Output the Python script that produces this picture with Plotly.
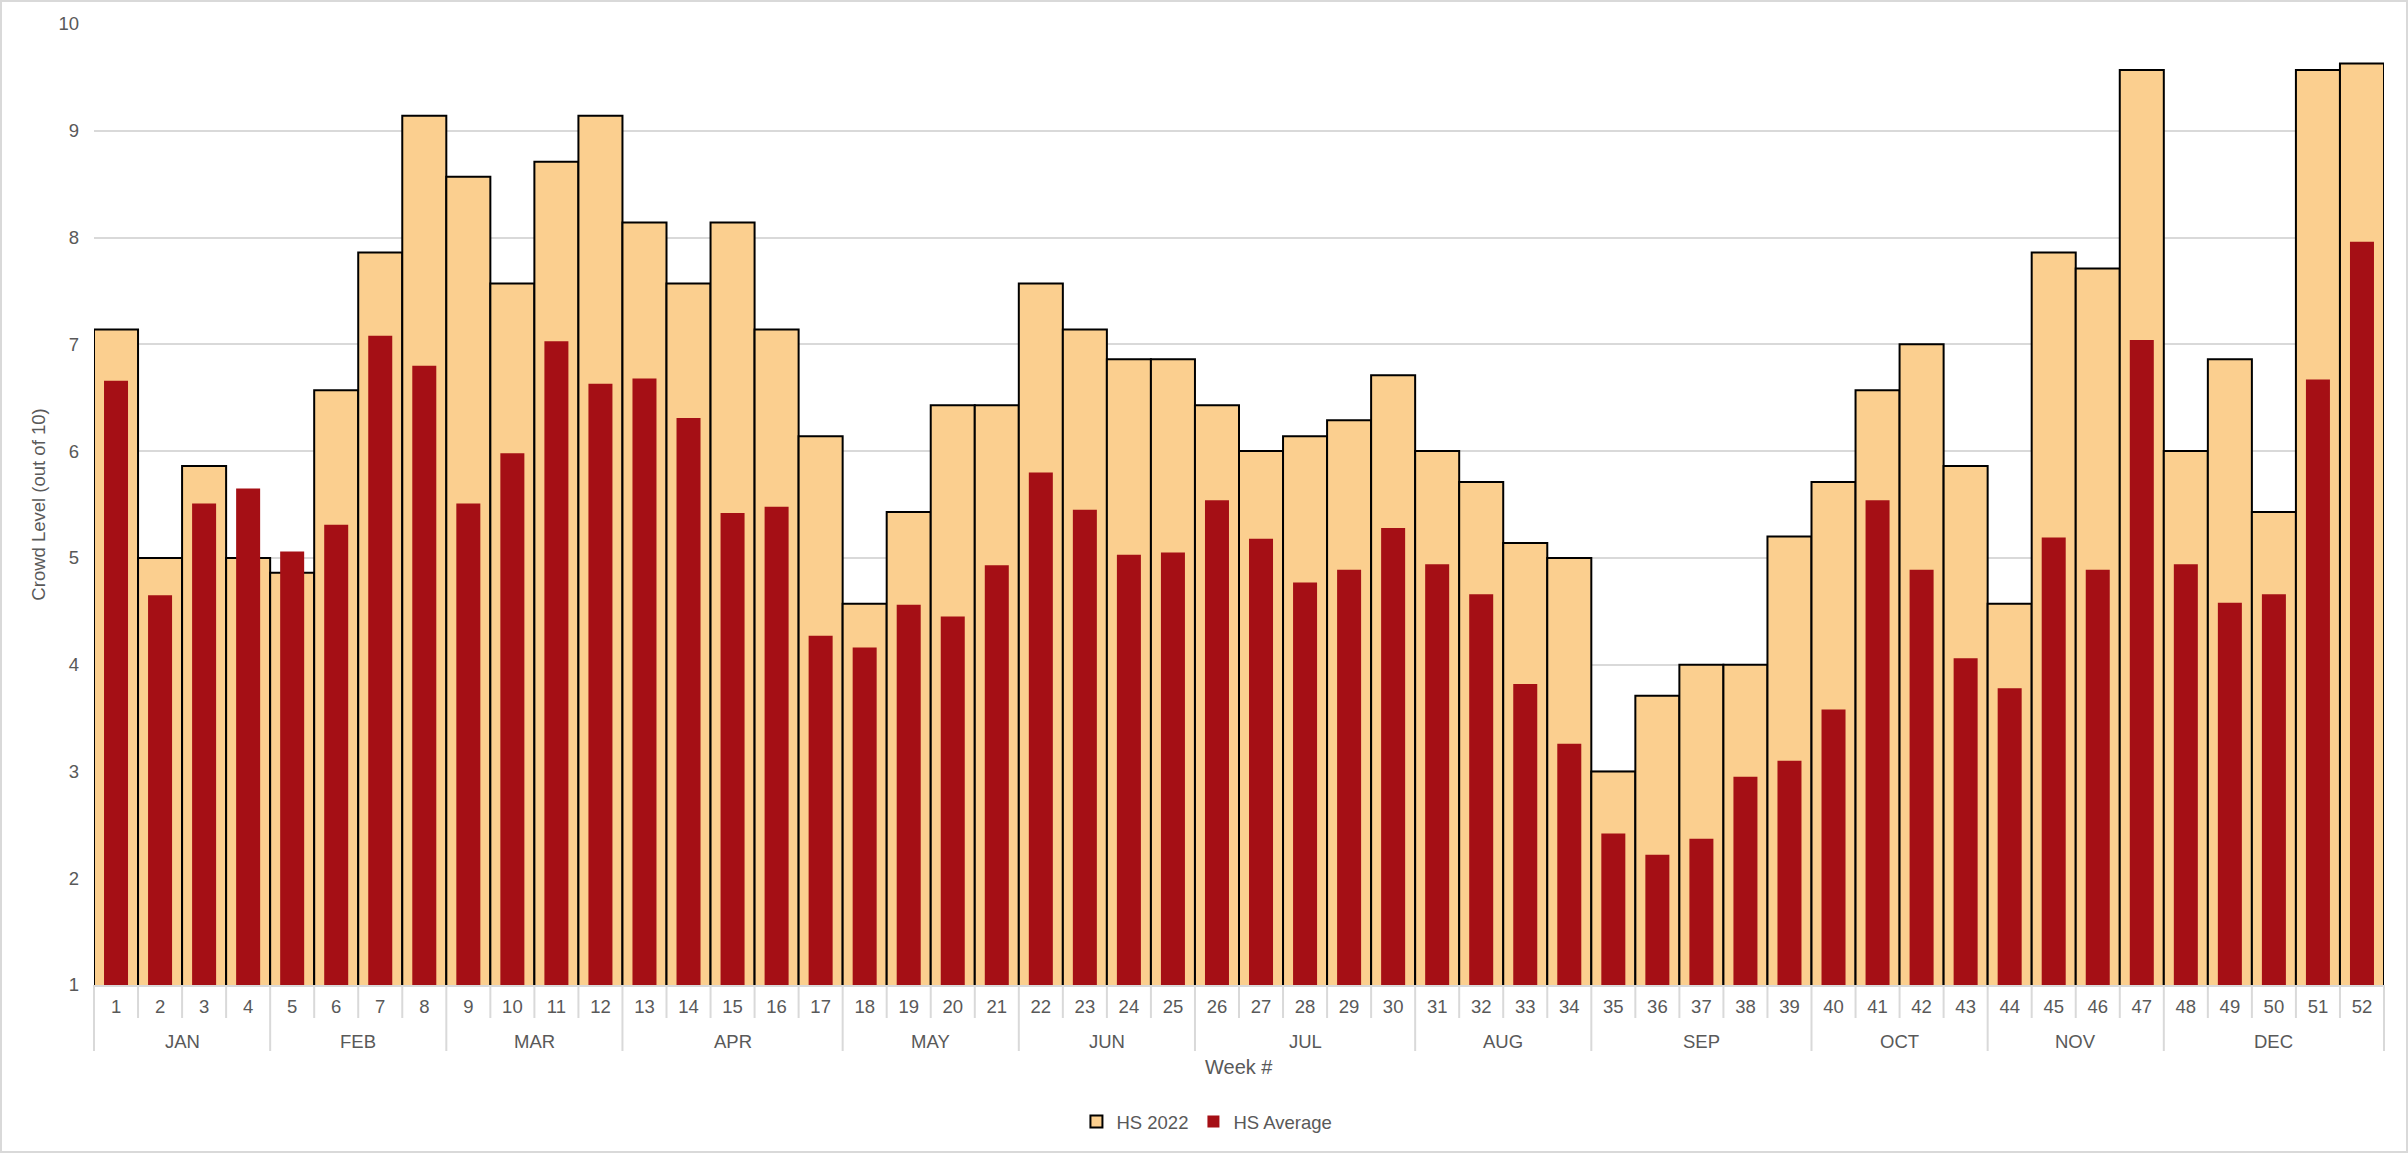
import plotly.graph_objects as go

weeks = [str(i) for i in range(1, 53)]
month_names = ["JAN", "FEB", "MAR", "APR", "MAY", "JUN", "JUL", "AUG", "SEP", "OCT", "NOV", "DEC"]
weeks_per_month = [4, 4, 4, 5, 4, 4, 5, 4, 5, 4, 4, 5]

hs_2022 = [7.14, 5.0, 5.86, 5.0, 4.86, 6.57, 7.86, 9.14, 8.57, 7.57, 8.71, 9.14, 8.14, 7.57,
           8.14, 7.14, 6.14, 4.57, 5.43, 6.43, 6.43, 7.57, 7.14, 6.86, 6.86, 6.43, 6.0, 6.14,
           6.29, 6.71, 6.0, 5.71, 5.14, 5.0, 3.0, 3.71, 4.0, 4.0, 5.2, 5.71, 6.57, 7.0, 5.86,
           4.57, 7.86, 7.71, 9.57, 6.0, 6.86, 5.43, 9.57, 9.63]

hs_average = [6.66, 4.65, 5.51, 5.65, 5.06, 5.31, 7.08, 6.80, 5.51, 5.98, 7.03, 6.63, 6.68,
              6.31, 5.42, 5.48, 4.27, 4.16, 4.56, 4.45, 4.93, 5.80, 5.45, 5.03, 5.05, 5.54,
              5.18, 4.77, 4.89, 5.28, 4.94, 4.66, 3.82, 3.26, 2.42, 2.22, 2.37, 2.95, 3.10,
              3.58, 5.54, 4.89, 4.06, 3.78, 5.19, 4.89, 7.04, 4.94, 4.58, 4.66, 6.67, 7.96]

W, H = 2408, 1153
ml, mr, mt, mb = 94, 24, 24, 168
pw, ph = W - ml - mr, H - mt - mb
axis_y = H - mb  # pixel row of the category axis

FONT = "Liberation Sans, Arial, sans-serif"
GREY = "#595959"
GRID = "#d9d9d9"
FS = 18.5

n = len(weeks)


def py(px_below):
    """paper y for a pixel offset below the x axis"""
    return -px_below / ph


def px_x(boundary):
    """paper x for a category boundary index (range is [-0.5, n-0.5])"""
    return (boundary + 0.5) / n


fig = go.Figure()
fig.add_trace(go.Bar(
    x=weeks, y=hs_2022, name="HS 2022", width=1.0,
    marker=dict(color="#FBCF8F", line=dict(color="#000000", width=2)),
))
fig.add_trace(go.Bar(
    x=weeks, y=hs_average, name="HS Average", width=0.545,
    marker=dict(color="#A50F15", line=dict(width=0)),
))

shapes = []
# week separators
for b in range(n + 1):
    shapes.append(dict(type="line", xref="paper", yref="paper",
                       x0=px_x(b - 0.5), x1=px_x(b - 0.5), y0=0, y1=py(33),
                       line=dict(color=GRID, width=2)))
# month dividers + labels
annotations = []
start = 0
bounds = [0]
for name, cnt in zip(month_names, weeks_per_month):
    end = start + cnt
    bounds.append(end)
    annotations.append(dict(
        text=name, xref="x", yref="paper", x=(start + end - 1) / 2, y=py(1041 - axis_y),
        xanchor="center", yanchor="middle", showarrow=False,
        font=dict(family=FONT, size=FS, color=GREY)))
    start = end
for b in bounds:
    shapes.append(dict(type="line", xref="paper", yref="paper",
                       x0=px_x(b - 0.5), x1=px_x(b - 0.5), y0=py(33), y1=py(66),
                       line=dict(color=GRID, width=2)))

annotations.append(dict(
    text="Week #", xref="paper", yref="paper", x=0.5, y=py(1067 - axis_y),
    xanchor="center", yanchor="middle", showarrow=False,
    font=dict(family=FONT, size=20, color=GREY)))

# outer chart border
shapes.append(dict(
    type="rect", xref="paper", yref="paper",
    x0=(1 - ml) / pw, x1=(W - 1 - ml) / pw,
    y0=(axis_y - (H - 1)) / ph, y1=(axis_y - 1) / ph,
    line=dict(color=GRID, width=2), fillcolor="rgba(0,0,0,0)", layer="below",
))

fig.update_layout(
    width=W, height=H,
    margin=dict(l=ml, r=mr, t=mt, b=mb, pad=0),
    barmode="overlay",
    paper_bgcolor="white", plot_bgcolor="white",
    font=dict(family=FONT, size=FS, color=GREY),
    showlegend=True,
    legend=dict(orientation="h", x=0.486, xanchor="center", y=py(1122 - axis_y),
                yanchor="middle", font=dict(size=FS, color=GREY), traceorder="normal",
                itemwidth=30),
    xaxis=dict(
        type="category",
        showline=True, linecolor=GRID, linewidth=2,
        ticks="", showgrid=False,
        ticklabelstandoff=4,
        tickfont=dict(size=FS, color=GREY),
    ),
    yaxis=dict(
        range=[1, 10], dtick=1, tick0=1,
        showgrid=True, gridcolor=GRID, gridwidth=2,
        zeroline=False, showline=False,
        ticks="", ticklabelstandoff=14,
        tickfont=dict(size=FS, color=GREY),
        title=dict(text="Crowd Level (out of 10)", font=dict(size=FS, color=GREY), standoff=7),
    ),
    shapes=shapes,
    annotations=annotations,
)

fig.write_html("out.html")
